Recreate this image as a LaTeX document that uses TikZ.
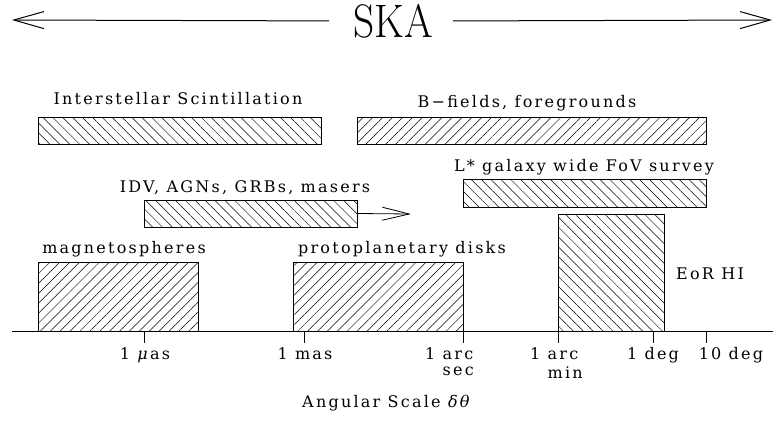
\documentclass[tikz,border=0pt]{standalone}
\usepackage{fontspec}
\usetikzlibrary{positioning, arrows.meta, patterns.meta}
\newfontfamily\plotfont[LetterSpace=14]{DejaVu Serif}
\tikzset{
    bar/.style 2 args={
        draw=black, line width=0.9pt, inner sep=0pt, outer sep=0pt,
        minimum width=#1, minimum height=#2, anchor=north west,
    },
    fwd/.style={pattern={Lines[angle=45, distance=7pt, line width=0.5pt]}},
    bwd/.style={pattern={Lines[angle=-45, distance=7pt, line width=0.5pt]}},
    lbl/.style={
        font=\plotfont\fontsize{16}{18}\selectfont, inner sep=0pt, anchor=base,
    },
    bigarrow/.style={
        -{Straight Barb[length=30pt, width=17pt, line width=1pt]}, line width=1pt,
    },
    smallarrow/.style={
        -{Straight Barb[length=27pt, width=13pt, line width=0.8pt]}, line width=0.8pt,
    },
}

\begin{document}
\begin{tikzpicture}[x=1pt, y=-1pt]
\useasboundingbox (0,0) rectangle (773,421);

% ── SKA banner ───────────────────────────────────────────────
\node[font=\fontsize{47}{47}\selectfont, xscale=0.88, inner sep=0pt] (ska) at (393,21) {SKA};
\coordinate (ska_left) at (12,20);
\coordinate (ska_right) at (772,20);
\draw[bigarrow, shorten <=24pt] (ska.west) -- (ska_left);
\draw[bigarrow, shorten <=20pt] (ska.east) -- (ska_right);

% ── Science bars ─────────────────────────────────────────────
\node[bar={283pt}{27pt}, bwd] (ism) at (38,117) {};
\node[bar={349pt}{27pt}, fwd] (bfield) at (357,117) {};
\node[bar={213pt}{27pt}, bwd] (idv) at (144,200) {};
\node[bar={243pt}{28pt}, bwd] (lstar) at (463,179) {};
\node[bar={160pt}{69pt}, fwd] (magneto) at (38,262) {};
\node[bar={170pt}{69pt}, fwd] (proto) at (293,262) {};
\node[bar={106pt}{117pt}, bwd] (eor) at (558,214) {};

% open-ended IDV range
\coordinate (idv_end) at (411,214);
\draw[smallarrow] (idv.east) -- (idv_end);

% bar labels
\node[lbl] (ism_lbl) at (178,104) {Interstellar Scintillation};
\node[lbl] (bfield_lbl) at (527,107) {B−fields, foregrounds};
\node[lbl] (idv_lbl) at (245,192) {IDV, AGNs, GRBs, masers};
\node[lbl] (lstar_lbl) at (584,171) {L* galaxy wide FoV survey};
\node[lbl] (magneto_lbl) at (124,253) {magnetospheres};
\node[lbl] (proto_lbl) at (402,253) {protoplanetary disks};
\node[lbl] (eor_lbl) at (710,279) {EoR HI};

% ── Angular scale axis ───────────────────────────────────────
\coordinate (axis_l) at (12,331);
\coordinate (axis_r) at (773,331);
\draw[line width=0.9pt] (axis_l) -- (axis_r);

\coordinate (t_muas) at (144,331);
\coordinate (t_mas) at (304,331);
\coordinate (t_arcsec) at (463,331);
\coordinate (t_arcmin) at (558,331);
\coordinate (t_deg) at (653,331);
\coordinate (t_tendeg) at (706,331);
\draw[line width=0.9pt] (t_muas) -- ++(0,12);
\draw[line width=0.9pt] (t_mas) -- ++(0,12);
\draw[line width=0.9pt] (t_arcsec) -- ++(0,12);
\draw[line width=0.9pt] (t_arcmin) -- ++(0,12);
\draw[line width=0.9pt] (t_deg) -- ++(0,12);
\draw[line width=0.9pt] (t_tendeg) -- ++(0,12);

\node[lbl] (muas_lbl) at (145,359) {1 \textit{μ}as};
\node[lbl] (mas_lbl) at (305,359) {1 mas};
% base anchor of a two-line node sits on its last line
\node[lbl, anchor=base west, align=left] (arcsec_lbl) at (425,375) {1 arc\\[-2pt]\phantom{1 }sec};
\node[lbl, anchor=base west, align=left] (arcmin_lbl) at (530,378) {1 arc\\[1pt]\phantom{1 }min};
\node[lbl] (deg_lbl) at (653,359) {1 deg};
\node[lbl] (tendeg_lbl) at (731,359) {10 deg};

\node[lbl] (axis_title) at (387,407) {Angular Scale \textit{δθ}};

\end{tikzpicture}
\end{document}
